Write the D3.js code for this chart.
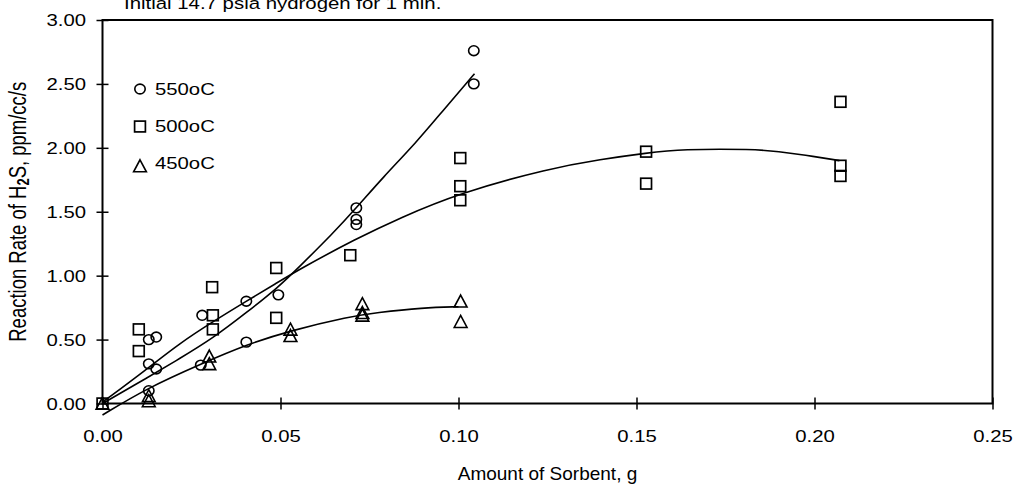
<!DOCTYPE html>
<html>
<head>
<meta charset="utf-8">
<script src="https://cdn.jsdelivr.net/npm/d3@7"></script>
<style>
  html, body { margin: 0; padding: 0; background: #fff; }
  svg { display: block; }
  text { font-family: "Liberation Sans", Arial, sans-serif; fill: #000; }
</style>
</head>
<body>
<svg id="chart" width="1016" height="489"></svg>
<script>
// Sorbent amount (g) and H2S reaction rate (ppm/cc/s) at three temperatures
const amounts550 = [0.0130, 0.0130, 0.0130, 0.0151, 0.0151, 0.0276, 0.0280, 0.0404, 0.0404, 0.0494, 0.0713, 0.0713, 0.0713, 0.1043, 0.1043];
const rates550   = [0.10, 0.31, 0.50, 0.52, 0.27, 0.30, 0.69, 0.80, 0.48, 0.85, 1.53, 1.44, 1.40, 2.76, 2.50];

const amounts500 = [0, 0.0102, 0.0102, 0.0308, 0.0310, 0.0310, 0.0488, 0.0488, 0.0696, 0.1005, 0.1005, 0.1005, 0.1527, 0.1527, 0.2073, 0.2073, 0.2073];
const rates500   = [0, 0.58, 0.41, 0.91, 0.69, 0.58, 1.06, 0.67, 1.16, 1.92, 1.70, 1.59, 1.97, 1.72, 2.36, 1.86, 1.78];

const amounts450 = [0, 0.0130, 0.0130, 0.0300, 0.0300, 0.0528, 0.0528, 0.0730, 0.0730, 0.0730, 0.1006, 0.1006];
const rates450   = [0, 0.06, 0.02, 0.37, 0.31, 0.58, 0.53, 0.78, 0.71, 0.69, 0.80, 0.64];

// Trend curves through each temperature series
const trend550x = [0, 0.0125, 0.0216, 0.031, 0.0404, 0.0494, 0.0553, 0.0647, 0.0713, 0.0788, 0.0881, 0.0965, 0.1012, 0.1045];
const trend550y = [0.00, 0.20, 0.35, 0.51, 0.71, 0.91, 1.07, 1.33, 1.53, 1.77, 2.04, 2.32, 2.47, 2.58];

const trend500x = [0, 0.0125, 0.0216, 0.031, 0.0404, 0.0488, 0.0553, 0.0713, 0.0834, 0.100, 0.1256, 0.140, 0.153, 0.1625, 0.183, 0.190, 0.197, 0.207];
const trend500y = [0.01, 0.27, 0.47, 0.64, 0.80, 0.94, 1.05, 1.29, 1.45, 1.645, 1.84, 1.91, 1.96, 1.99, 1.99, 1.97, 1.945, 1.90];

const trend450x = [0, 0.0125, 0.0277, 0.0404, 0.0528, 0.0694, 0.0768, 0.090, 0.100];
const trend450y = [-0.09, 0.12, 0.31, 0.46, 0.57, 0.68, 0.71, 0.75, 0.757];

const xTicks = [0, 0.05, 0.10, 0.15, 0.20, 0.25];
const yTicks = [0, 0.5, 1.0, 1.5, 2.0, 2.5, 3.0];
const legendLabels = ["550oC", "500oC", "450oC"];
const titleText = "Initial 14.7 psia hydrogen for 1 min.";

const svg = d3.select("#chart");
const plotLeft = 102.5, plotRight = 992.5, plotTop = 20, plotBottom = 403.5;
const sx = 1.27;   // horizontal text stretch

const x = d3.scaleLinear().domain([0, 0.25]).range([plotLeft, plotRight]);
const y = d3.scaleLinear().domain([0, 3]).range([plotBottom, plotTop]);

// Title (partly above the canvas)
svg.append("text")
  .attr("transform", `translate(124,8.5) scale(1.2,1)`)
  .attr("font-size", 17)
  .text(titleText);

// Axes with cross tick marks
const yAxis = svg.append("g")
  .attr("transform", `translate(${plotLeft},0)`)
  .call(d3.axisLeft(y).tickValues(yTicks).tickFormat(d3.format(".2f")).tickSize(6).tickPadding(0));
yAxis.select(".domain").remove();
yAxis.selectAll(".tick line").attr("x1", 6).attr("stroke", "#000").attr("stroke-width", 1.5);
yAxis.selectAll(".tick text")
  .attr("font-size", 16).attr("font-family", "Liberation Sans, Arial, sans-serif")
  .attr("x", -16.5 / sx).attr("dy", "0.36em")
  .attr("transform", `scale(${sx},1)`);

const xAxis = svg.append("g")
  .attr("transform", `translate(0,${plotBottom})`)
  .call(d3.axisBottom(x).tickValues(xTicks).tickFormat(d3.format(".2f")).tickSize(6).tickPadding(0));
xAxis.select(".domain").remove();
xAxis.selectAll(".tick line").attr("y1", -6).attr("stroke", "#000").attr("stroke-width", 1.5);
xAxis.selectAll(".tick text")
  .attr("font-size", 16).attr("font-family", "Liberation Sans, Arial, sans-serif")
  .attr("y", 38.5).attr("dy", null)
  .attr("transform", `scale(${sx},1)`);

// Plot frame
svg.append("rect")
  .attr("x", plotLeft).attr("y", plotTop)
  .attr("width", plotRight - plotLeft).attr("height", plotBottom - plotTop)
  .attr("fill", "none").attr("stroke", "#000").attr("stroke-width", 2);

// Trend curves
const line = d3.line().x(d => x(d[0])).y(d => y(d[1])).curve(d3.curveBasis);
[[trend550x, trend550y], [trend500x, trend500y], [trend450x, trend450y]].forEach(([xs, ys]) => {
  svg.append("path")
    .datum(d3.zip(xs, ys))
    .attr("d", line)
    .attr("fill", "none").attr("stroke", "#000").attr("stroke-width", 1.6);
});

// Marker shapes
const tri = "M0,-6.2L6.4,5.8L-6.4,5.8Z";
function drawCircle(g, cx, cy) {
  g.append("ellipse").attr("cx", cx).attr("cy", cy).attr("rx", 5.2).attr("ry", 4.9)
    .attr("fill", "none").attr("stroke", "#000").attr("stroke-width", 1.6);
}
function drawSquare(g, cx, cy) {
  g.append("rect").attr("x", cx - 5.4).attr("y", cy - 5.4).attr("width", 10.8).attr("height", 10.8)
    .attr("fill", "none").attr("stroke", "#000").attr("stroke-width", 1.7);
}
function drawTriangle(g, cx, cy) {
  g.append("path").attr("d", tri).attr("transform", `translate(${cx},${cy})`)
    .attr("fill", "none").attr("stroke", "#000").attr("stroke-width", 1.6).attr("stroke-linejoin", "miter");
}

const marks = svg.append("g");
d3.zip(amounts450, rates450).forEach(d => drawTriangle(marks, x(d[0]), y(d[1])));
d3.zip(amounts500, rates500).forEach(d => drawSquare(marks, x(d[0]), y(d[1])));
d3.zip(amounts550, rates550).forEach(d => drawCircle(marks, x(d[0]), y(d[1])));

// Legend
const legend = svg.append("g");
const legendY = [89, 126.5, 163.5];
const drawers = [drawCircle, drawSquare, drawTriangle];
legendLabels.forEach((lab, i) => {
  drawers[i](legend, 140, legendY[i] + (i === 2 ? 2.5 : 0));
  legend.append("text")
    .attr("transform", `translate(155,${legendY[i] + 5.8}) scale(${sx},1)`)
    .attr("font-size", 16)
    .text(lab);
});

// Axis titles
const yt = svg.append("text")
  .attr("transform", `translate(25.5,${(plotTop + plotBottom) / 2}) rotate(-90) scale(1,1.3)`)
  .attr("text-anchor", "middle")
  .attr("font-size", 18.5);
yt.append("tspan").text("Reaction Rate of H");
yt.append("tspan").attr("font-size", 13).attr("font-weight", "bold").attr("dy", 3).text("2");
yt.append("tspan").attr("dy", -3).text("S, ppm/cc/s");

svg.append("text")
  .attr("x", (plotLeft + plotRight) / 2).attr("y", 480)
  .attr("text-anchor", "middle")
  .attr("font-family", "Liberation Sans Narrow, Arial Narrow, sans-serif")
  .attr("font-size", 19)
  .text("Amount of Sorbent, g");
</script>
</body>
</html>
